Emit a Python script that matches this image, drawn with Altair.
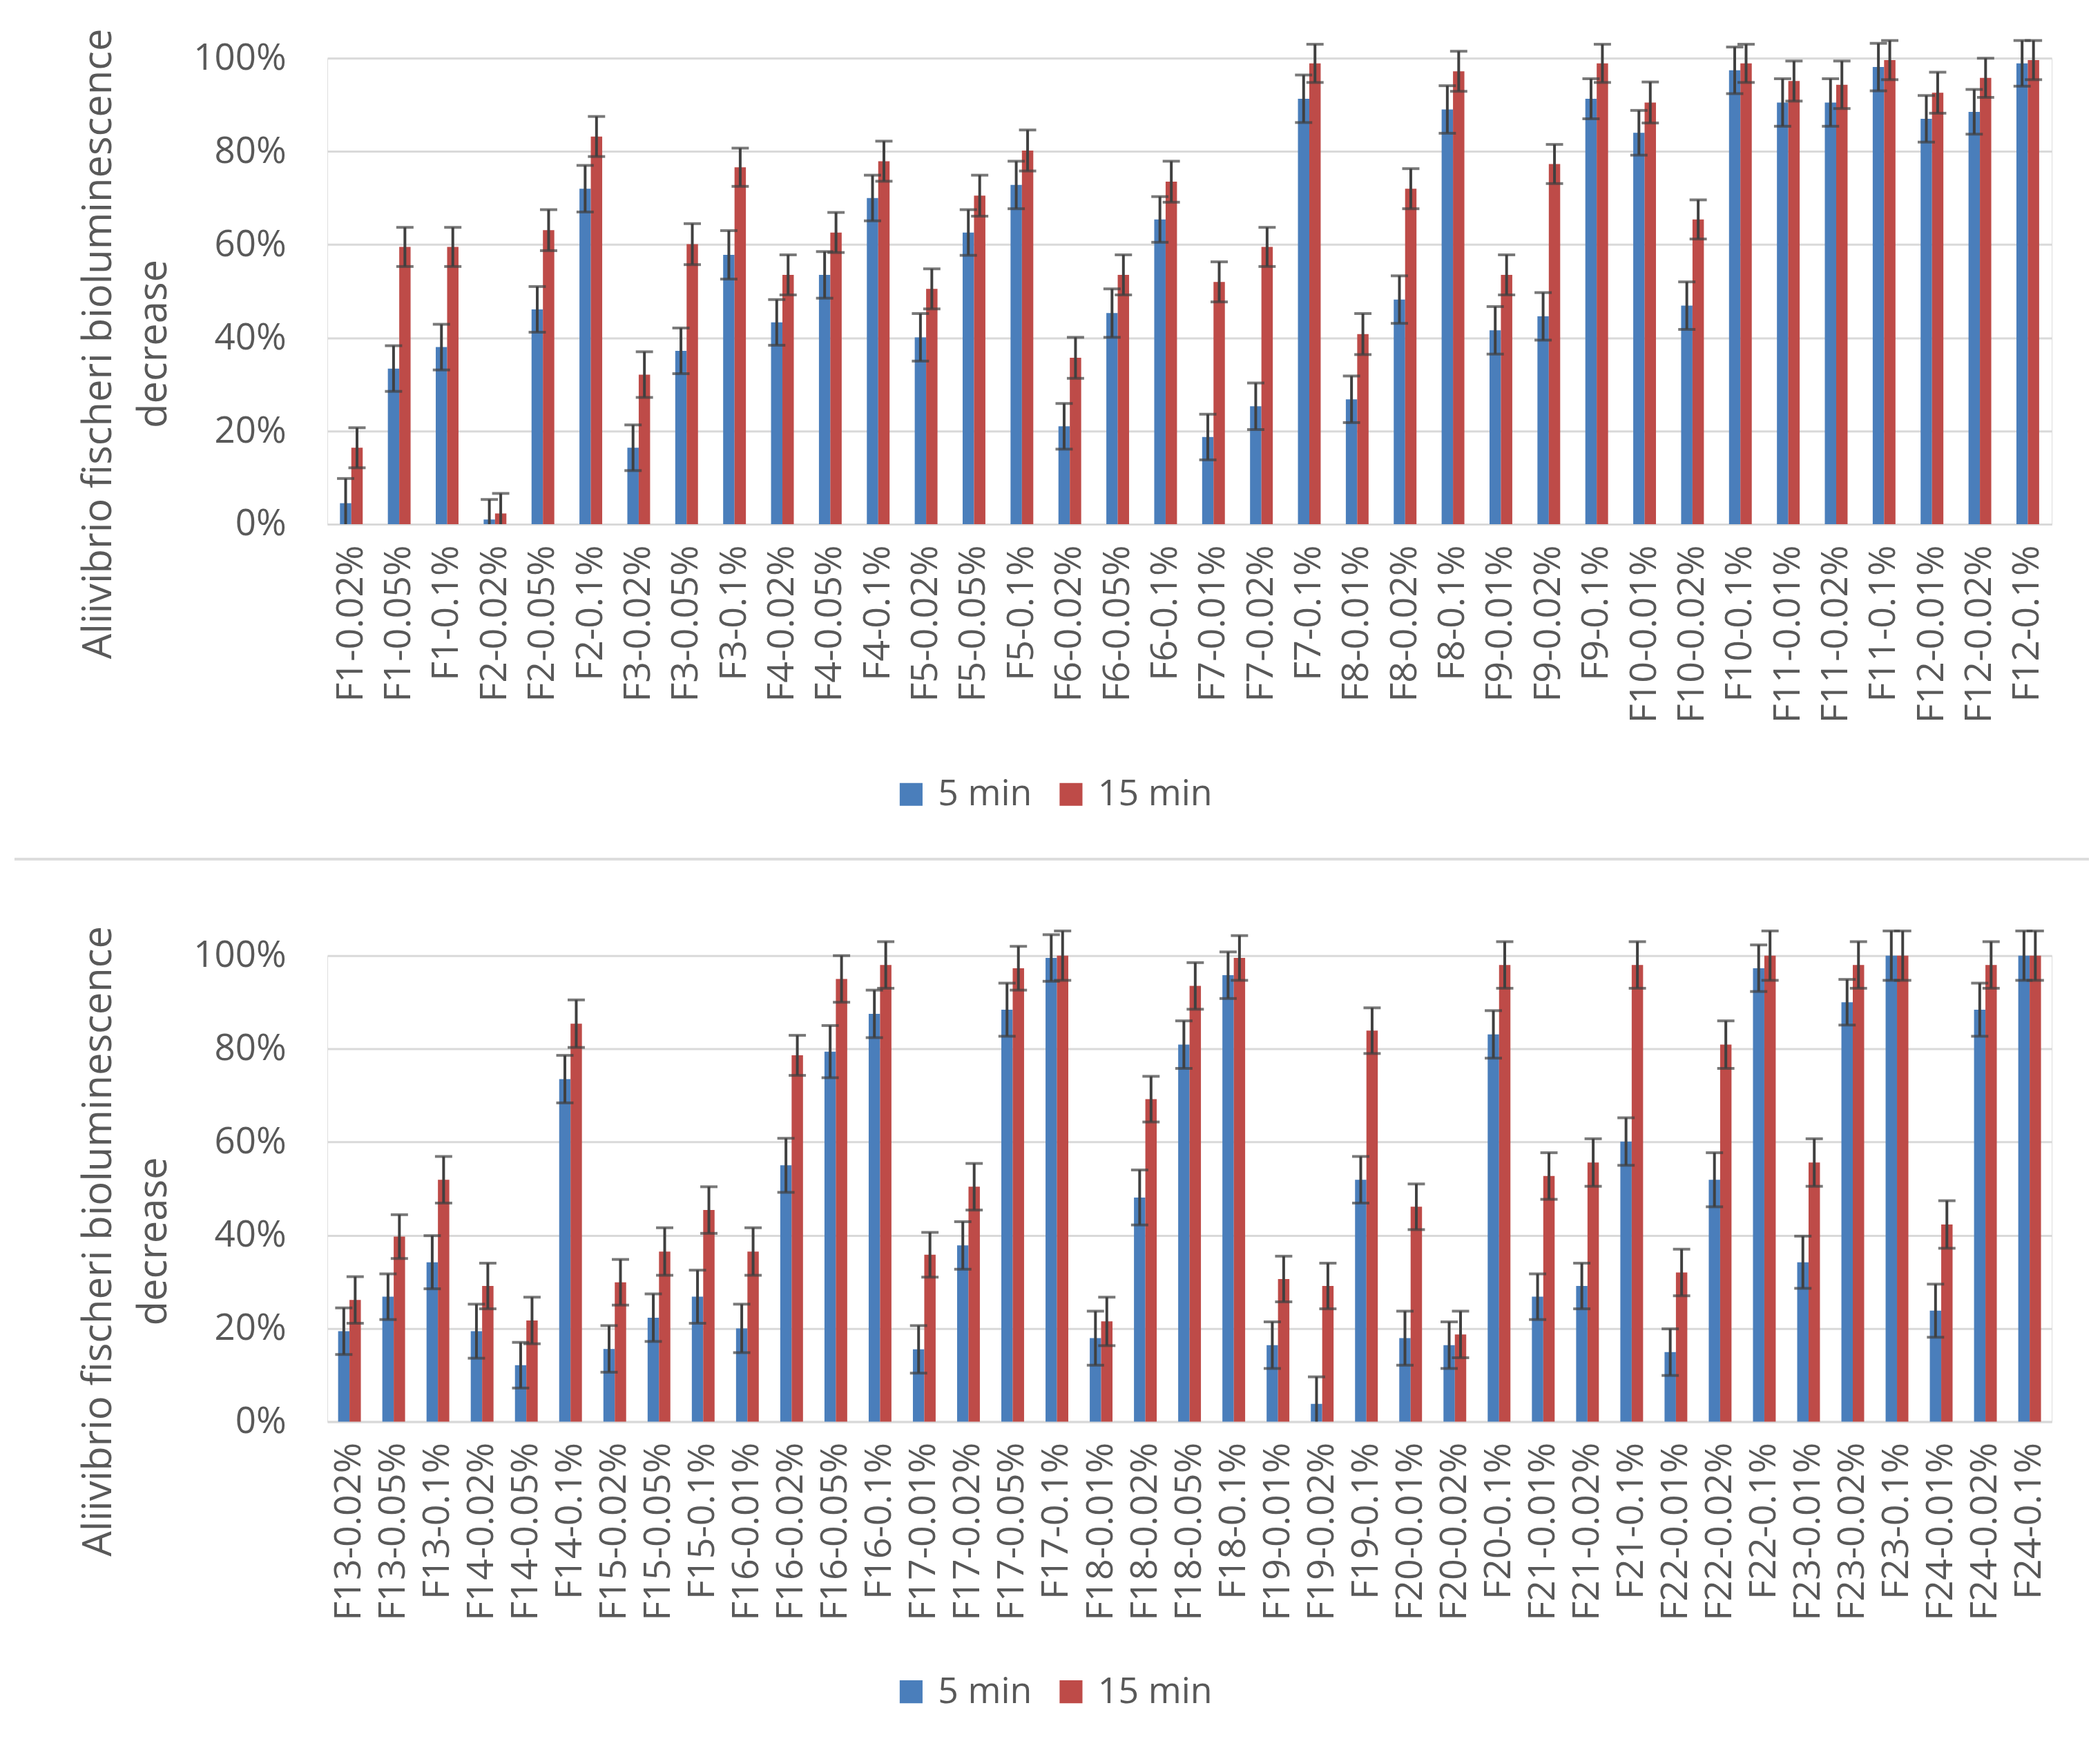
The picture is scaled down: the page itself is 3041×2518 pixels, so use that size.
import altair as alt
import pandas as pd

series = ["5 min", "15 min"]
colors = ["#4A7EBB", "#BE4B48"]

top_categories = [
    "F1-0.02%", "F1-0.05%", "F1-0.1%", "F2-0.02%", "F2-0.05%", "F2-0.1%",
    "F3-0.02%", "F3-0.05%", "F3-0.1%", "F4-0.02%", "F4-0.05%", "F4-0.1%",
    "F5-0.02%", "F5-0.05%", "F5-0.1%", "F6-0.02%", "F6-0.05%", "F6-0.1%",
    "F7-0.01%", "F7-0.02%", "F7-0.1%", "F8-0.01%", "F8-0.02%", "F8-0.1%",
    "F9-0.01%", "F9-0.02%", "F9-0.1%", "F10-0.01%", "F10-0.02%", "F10-0.1%",
    "F11-0.01%", "F11-0.02%", "F11-0.1%", "F12-0.01%", "F12-0.02%", "F12-0.1%",
]
top_5min = [4.5, 33.4, 38.0, 1.0, 46.1, 72.0, 16.4, 37.2, 57.8, 43.3, 53.5, 70.0,
            40.1, 62.6, 72.8, 21.0, 45.3, 65.4, 18.7, 25.3, 91.3, 26.8, 48.2, 89.0,
            41.6, 44.6, 91.3, 84.0, 46.9, 97.4, 90.5, 90.5, 98.1, 87.0, 88.5, 98.9]
top_15min = [16.4, 59.5, 59.5, 2.3, 63.1, 83.2, 32.1, 60.1, 76.6, 53.5, 62.6, 77.9,
             50.5, 70.5, 80.2, 35.7, 53.5, 73.5, 52.0, 59.5, 98.9, 40.8, 72.0, 97.2,
             53.5, 77.3, 98.9, 90.5, 65.4, 98.9, 95.1, 94.3, 99.6, 92.6, 95.8, 99.6]
top_err5 = [5.3, 4.9, 4.9, 4.3, 4.9, 5.0, 4.9, 4.9, 5.2, 4.9, 5.0, 4.9,
            5.1, 4.9, 5.1, 4.9, 5.2, 4.9, 4.9, 5.0, 5.1, 5.0, 5.1, 5.1,
            5.1, 5.1, 4.3, 4.8, 5.1, 5.0, 5.1, 5.1, 5.1, 5.0, 4.8, 4.9]
top_err15 = [4.3, 4.2, 4.2, 4.3, 4.4, 4.3, 4.9, 4.4, 4.1, 4.3, 4.3, 4.3,
             4.3, 4.4, 4.4, 4.4, 4.3, 4.4, 4.3, 4.2, 4.1, 4.4, 4.3, 4.3,
             4.3, 4.2, 4.1, 4.4, 4.2, 4.1, 4.3, 5.1, 4.2, 4.4, 4.2, 4.2]

bottom_categories = [
    "F13-0.02%", "F13-0.05%", "F13-0.1%", "F14-0.02%", "F14-0.05%", "F14-0.1%",
    "F15-0.02%", "F15-0.05%", "F15-0.1%", "F16-0.01%", "F16-0.02%", "F16-0.05%",
    "F16-0.1%", "F17-0.01%", "F17-0.02%", "F17-0.05%", "F17-0.1%", "F18-0.01%",
    "F18-0.02%", "F18-0.05%", "F18-0.1%", "F19-0.01%", "F19-0.02%", "F19-0.1%",
    "F20-0.01%", "F20-0.02%", "F20-0.1%", "F21-0.01%", "F21-0.02%", "F21-0.1%",
    "F22-0.01%", "F22-0.02%", "F22-0.1%", "F23-0.01%", "F23-0.02%", "F23-0.1%",
    "F24-0.01%", "F24-0.02%", "F24-0.1%",
]
bottom_5min = [19.4, 26.8, 34.2, 19.4, 12.1, 73.5, 15.6, 22.3, 26.8, 20.0, 55.0, 79.4,
               87.5, 15.5, 37.8, 88.4, 99.5, 17.9, 48.1, 80.9, 95.8, 16.4, 3.8, 51.9,
               17.9, 16.4, 83.1, 26.8, 29.1, 60.1, 14.9, 51.9, 97.3, 34.2, 90.0, 100.0,
               23.8, 88.4, 100.0]
bottom_15min = [26.1, 39.7, 51.9, 29.1, 21.7, 85.4, 29.9, 36.5, 45.4, 36.5, 78.6, 95.0,
                98.0, 35.8, 50.4, 97.3, 100.0, 21.5, 69.2, 93.5, 99.5, 30.6, 29.1, 83.9,
                46.1, 18.7, 98.0, 52.7, 55.6, 98.0, 32.0, 80.9, 100.0, 55.6, 98.0, 100.0,
                42.3, 98.0, 100.0]
bottom_err5 = [5.0, 4.9, 5.7, 5.8, 4.9, 5.1, 5.0, 5.1, 5.7, 5.2, 5.8, 5.6,
               5.1, 5.1, 5.1, 5.7, 5.0, 5.8, 5.9, 5.1, 5.0, 5.0, 5.8, 5.0,
               5.8, 5.0, 5.1, 4.9, 4.9, 5.1, 5.0, 5.8, 5.0, 5.6, 4.9, 5.3,
               5.7, 5.7, 5.3]
bottom_err15 = [5.0, 4.7, 5.0, 4.9, 5.0, 5.1, 4.9, 5.1, 5.0, 5.1, 4.3, 5.0,
                5.0, 4.8, 5.0, 4.7, 5.3, 5.2, 4.9, 5.0, 4.8, 4.9, 4.9, 4.9,
                4.9, 5.0, 5.0, 5.0, 5.1, 5.0, 5.0, 5.1, 5.3, 5.1, 5.0, 5.3,
                5.1, 5.0, 5.3]

y_ticks = [0, 0.2, 0.4, 0.6, 0.8, 1.0]
y_title = ["Aliivibrio fischeri bioluminescence", "decrease"]

GRID = "#D9D9D9"
TEXT = "#595959"
ERR = "#404040"
FONT = "Open Sans"
W, H = 2502, 676


def long_table(cats, v5, v15, e5, e15):
    rows = []
    for c, a, b, ea, eb in zip(cats, v5, v15, e5, e15):
        for s, v, e in ((series[0], a, ea), (series[1], b, eb)):
            raw_lo = (v - e) / 100.0
            rows.append({"cat": c, "series": s, "value": v / 100.0,
                         "lo": max(raw_lo, 0.0), "hi": (v + e) / 100.0,
                         "lo_cap": 1 if raw_lo >= 0 else 0})
    return pd.DataFrame(rows)


def panel(cats, v5, v15, e5, e15, separator):
    df = long_table(cats, v5, v15, e5, e15)
    n = len(cats)
    step = W / n
    band = 33.0
    pin = 1 - band / step
    xenc = alt.X("cat:N", sort=cats,
                 scale=alt.Scale(paddingInner=pin, paddingOuter=pin / 2),
                 axis=alt.Axis(title=None, labelAngle=270, labelFont=FONT,
                               labelFontSize=54, labelColor=TEXT, labelPadding=30,
                               ticks=False, domainColor=GRID, domainWidth=3,
                               labelOverlap=False, labelLimit=1000, grid=False))
    xoff = alt.XOffset("series:N", sort=series,
                       scale=alt.Scale(domain=series, paddingInner=0, paddingOuter=0))
    yscale = alt.Scale(domain=[0, 1], nice=False)
    yaxis = alt.Axis(values=y_ticks, format=".0%", labelFont=FONT,
                     labelFontSize=53, labelColor=TEXT, labelPadding=60,
                     ticks=False, domain=False, gridColor=GRID, gridWidth=3,
                     title=y_title, titleFont=FONT, titleFontSize=58,
                     titleFontWeight="normal", titleColor=TEXT, titleAngle=270,
                     titleX=-360, titleY=414, titleAlign="center",
                     titleBaseline="top", titleLineHeight=80)
    base = alt.Chart(df)
    bars = base.mark_bar().encode(
        x=xenc, xOffset=xoff,
        y=alt.Y("value:Q", scale=yscale, axis=yaxis),
        color=alt.Color("series:N", sort=series,
                        scale=alt.Scale(domain=series, range=colors),
                        legend=alt.Legend(orient="none", legendX=821, legendY=1042,
                                          direction="horizontal", title=None,
                                          symbolType="square", symbolSize=1100,
                                          symbolStrokeWidth=0, labelFont=FONT,
                                          labelFontSize=52, labelColor=TEXT,
                                          labelLimit=1000, columnPadding=30,
                                          labelOffset=13)),
    )
    rule = base.mark_rule(color=ERR, strokeWidth=4).encode(
        x=alt.X("cat:N", sort=cats), xOffset=xoff,
        y=alt.Y("lo:Q", scale=yscale), y2="hi:Q")
    cap_lo = base.transform_filter("datum.lo_cap == 1").mark_tick(
        color=ERR, thickness=4, size=25).encode(
        x=alt.X("cat:N", sort=cats), xOffset=xoff, y=alt.Y("lo:Q", scale=yscale))
    cap_hi = base.mark_tick(color=ERR, thickness=4, size=25).encode(
        x=alt.X("cat:N", sort=cats), xOffset=xoff, y=alt.Y("hi:Q", scale=yscale))
    layers = [bars, rule, cap_lo, cap_hi]
    if separator:
        sep = alt.Chart(pd.DataFrame({"k": [0]})).mark_rule(
            color="#DDDDDD", strokeWidth=4).encode(
            x=alt.value(-454), x2=alt.value(2556), y=alt.value(1162))
        layers.append(sep)
    return alt.layer(*layers).properties(width=W, height=H)


top = panel(top_categories, top_5min, top_15min, top_err5, top_err15, True)
bottom = panel(bottom_categories, bottom_5min, bottom_15min, bottom_err5, bottom_err15, False)

chart = alt.vconcat(top, bottom, spacing=626, bounds="flush").resolve_scale(
    x="independent", color="independent").resolve_legend(color="independent").properties(
    padding={"left": 10, "top": 30, "right": 5, "bottom": 5}
).configure_view(strokeWidth=0).configure(background="white")

chart.save("out.html", embed_options={"renderer": "svg", "actions": False})
